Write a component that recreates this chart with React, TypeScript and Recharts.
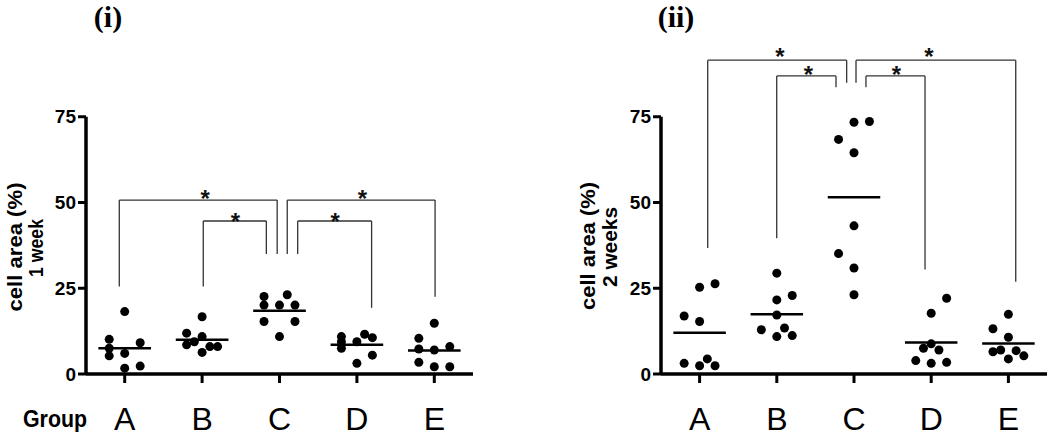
import React from 'react';
import { ComposedChart, Scatter, XAxis, YAxis, ReferenceLine } from 'recharts';

const groups = ['A', 'B', 'C', 'D', 'E'];
const yTicks = [0, 25, 50, 75];

// cell area (%) after 1 week, one array per group
const week1A = [18.2, 10.1, 7.5, 5.3, 9.1, 6.0, 1.7, 2.3];
const week1B = [16.7, 11.9, 10.9, 9.4, 8.5, 6.3, 8.0, 8.0];
const week1C = [22.6, 23.1, 20.1, 20.1, 20.1, 15.3, 15.3, 10.9];
const week1D = [10.9, 9.4, 7.5, 9.4, 11.6, 10.6, 5.5, 3.1];
const week1E = [14.8, 10.4, 7.3, 7.0, 8.0, 3.4, 2.1, 2.1];

// cell area (%) after 2 weeks
const week2A = [16.9, 15.3, 25.3, 26.3, 3.1, 2.4, 4.4, 2.4];
const week2B = [29.4, 21.6, 22.9, 17.2, 12.9, 13.4, 10.9, 11.2];
const week2C = [73.4, 73.6, 68.4, 64.5, 43.2, 35.1, 30.9, 23.1];
const week2D = [22.1, 17.7, 8.8, 7.5, 7.0, 3.9, 3.1, 3.4];
const week2E = [17.4, 13.2, 10.7, 6.5, 7.0, 6.8, 5.3, 4.4];

// column-scatter slot of each dot (left / centre / right)
const week1Slots = [
  [0, -1, -1, -1, 1, 0, 0, 1],
  [0, -1, 0, -0.5, -1, 0, 0.5, 1],
  [-1, 0.5, -1, 0, 1, -1, 1, 0],
  [-1, -1, -1, 0, 0.5, 1, 1, 0],
  [0, -1, -1, 0, 1, -1, 0, 1],
];
const week2Slots = [
  [-1, 0, 0, 1, -1, 0, 0.5, 1],
  [0, 0, 1, 0, -1, 0.5, 0, 1],
  [0, 1, -1, 0, 0, -1, 0, 0],
  [1, 0, 0, -0.5, 0.5, -1, 0, 1],
  [0, -1, 0, -1, -0.5, 0.5, 1, 0],
];

// significance brackets (x in group units, heights in %)
const week1Brackets = [
  { x1: 0.93, x2: 2.97, top: 50.7, foot1: 25.5, foot2: 35.0 },
  { x1: 2.015, x2: 2.83, top: 44.6, foot1: 25.5, foot2: 35.0 },
  { x1: 3.1, x2: 5.01, top: 50.7, foot1: 35.0, foot2: 22.5 },
  { x1: 3.235, x2: 4.19, top: 44.6, foot1: 35.0, foot2: 19.3 },
];
const week1Stars = [
  { x: 2.04, y: 52.5 },
  { x: 2.43, y: 45.9 },
  { x: 4.07, y: 52.5 },
  { x: 3.72, y: 45.9 },
];
const week2Brackets = [
  { x1: 1.105, x2: 2.905, top: 91.5, foot1: 36.7, foot2: 84.9 },
  { x1: 1.999, x2: 2.767, top: 86.9, foot1: 39.6, foot2: 83.6 },
  { x1: 3.026, x2: 5.095, top: 91.5, foot1: 84.9, foot2: 26.9 },
  { x1: 3.155, x2: 3.92, top: 86.9, foot1: 83.6, foot2: 30.5 },
];
const week2Stars = [
  { x: 2.04, y: 94.0 },
  { x: 2.41, y: 88.6 },
  { x: 3.55, y: 88.6 },
  { x: 3.97, y: 94.0 },
];

const SANS = 'Liberation Sans, Arial, sans-serif';

const GroupTick = (props: any) => {
  const { x, y, payload } = props;
  return (
    <text x={x} y={y + 45} textAnchor="middle" fontSize={32} fontFamily={SANS} fill="#000">
      {groups[payload.value - 1]}
    </text>
  );
};

const DotShape = (props: any) => <circle cx={props.cx} cy={props.cy} r={4.5} fill="#000" />;

const StarShape = (props: any) => (
  <text x={props.cx} y={props.cy + 13} textAnchor="middle" fontSize={24} fontWeight="bold" fontFamily={SANS} fill="#111">
    *
  </text>
);

interface PanelProps {
  values: number[][];
  slots: number[][];
  brackets: { x1: number; x2: number; top: number; foot1: number; foot2: number }[];
  stars: { x: number; y: number }[];
  axisWidth: number;
  rightMargin: number;
}

const Panel: React.FC<PanelProps> = ({ values, slots, brackets, stars, axisWidth, rightMargin }) => {
  const points = values.flatMap((vals, gi) =>
    vals.map((v, k) => ({ x: gi + 1 + slots[gi][k] * 0.2, y: v }))
  );
  const means = values.map(vals => vals.reduce((a, b) => a + b, 0) / vals.length);
  const bracketStroke = { stroke: '#333', strokeWidth: 1.3 };

  return (
    <ComposedChart width={480} height={433} margin={{ top: 31, right: rightMargin, bottom: 0, left: 0 }}>
      <XAxis
        type="number"
        dataKey="x"
        domain={[0.5, 5.5]}
        ticks={[1, 2, 3, 4, 5]}
        interval={0}
        height={59}
        tickSize={9}
        axisLine={{ stroke: '#000', strokeWidth: 3.5 }}
        tickLine={{ stroke: '#000', strokeWidth: 3 }}
        tick={<GroupTick />}
      />
      <YAxis
        type="number"
        dataKey="y"
        domain={[0, 100]}
        ticks={yTicks}
        interval={0}
        width={axisWidth}
        axisLine={false}
        tickSize={8}
        tickLine={{ stroke: '#000', strokeWidth: 3 }}
        tick={{ fill: '#000', fontSize: 19, fontWeight: 'bold', fontFamily: SANS }}
      />
      <ReferenceLine segment={[{ x: 0.5, y: 0 }, { x: 0.5, y: 75 }]} stroke="#000" strokeWidth={3.5} />
      {brackets.map((b, i) => (
        <React.Fragment key={`br-${i}`}>
          <ReferenceLine segment={[{ x: b.x1, y: b.foot1 }, { x: b.x1, y: b.top }]} {...bracketStroke} />
          <ReferenceLine segment={[{ x: b.x1, y: b.top }, { x: b.x2, y: b.top }]} {...bracketStroke} />
          <ReferenceLine segment={[{ x: b.x2, y: b.top }, { x: b.x2, y: b.foot2 }]} {...bracketStroke} />
        </React.Fragment>
      ))}
      {means.map((m, i) => (
        <ReferenceLine
          key={`mean-${i}`}
          segment={[{ x: i + 1 - 0.34, y: m }, { x: i + 1 + 0.34, y: m }]}
          stroke="#000"
          strokeWidth={2.5}
        />
      ))}
      <Scatter data={points} shape={DotShape} isAnimationActive={false} />
      <Scatter data={stars} shape={StarShape} isAnimationActive={false} />
    </ComposedChart>
  );
};

export default function App() {
  const label = { fontFamily: SANS, fontWeight: 'bold' as const, fill: '#000', fontSize: 20 };
  return (
    <div style={{ position: 'fixed', left: 0, top: 0, width: 1050, height: 433, background: '#fff' }}>
      <div style={{ position: 'absolute', left: 0, top: 0 }}>
        <Panel
          values={[week1A, week1B, week1C, week1D, week1E]}
          slots={week1Slots}
          brackets={week1Brackets}
          stars={week1Stars}
          axisWidth={86}
          rightMargin={7}
        />
      </div>
      <div style={{ position: 'absolute', left: 570, top: 0 }}>
        <Panel
          values={[week2A, week2B, week2C, week2D, week2E]}
          slots={week2Slots}
          brackets={week2Brackets}
          stars={week2Stars}
          axisWidth={91}
          rightMargin={3}
        />
      </div>
      <svg width={1050} height={433} style={{ position: 'absolute', left: 0, top: 0, pointerEvents: 'none' }}>
        <text x={108} y={27} textAnchor="middle" fontFamily="Liberation Serif, Times New Roman, serif" fontWeight="bold" fontSize={30}>
          (i)
        </text>
        <text x={676} y={27} textAnchor="middle" fontFamily="Liberation Serif, Times New Roman, serif" fontWeight="bold" fontSize={30}>
          (ii)
        </text>
        <text x={23} y={427} {...label} fontSize={23} textLength={64} lengthAdjust="spacingAndGlyphs">
          Group
        </text>
        <text x={15} y={247} transform="rotate(-90 15 247)" textAnchor="middle" dominantBaseline="central" {...label} textLength={129} lengthAdjust="spacingAndGlyphs">
          cell area (%)
        </text>
        <text x={36} y={248} transform="rotate(-90 36 248)" textAnchor="middle" dominantBaseline="central" {...label} textLength={58} lengthAdjust="spacingAndGlyphs">
          1 week
        </text>
        <text x={588} y={246} transform="rotate(-90 588 246)" textAnchor="middle" dominantBaseline="central" {...label} textLength={128} lengthAdjust="spacingAndGlyphs">
          cell area (%)
        </text>
        <text x={610} y={247} transform="rotate(-90 610 247)" textAnchor="middle" dominantBaseline="central" {...label} textLength={80} lengthAdjust="spacingAndGlyphs">
          2 weeks
        </text>
      </svg>
    </div>
  );
}
